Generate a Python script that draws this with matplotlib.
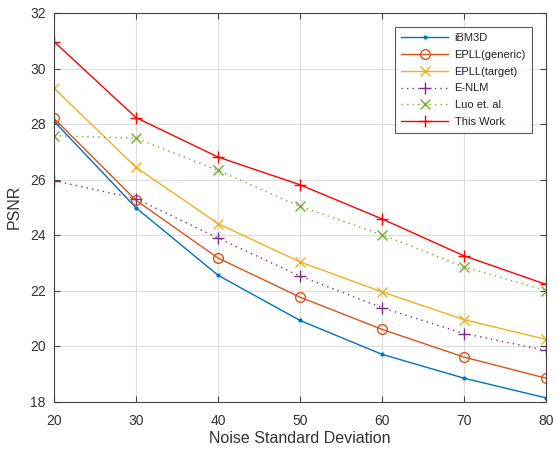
import matplotlib
matplotlib.use("Agg")
import matplotlib.pyplot as plt

noise = [20, 30, 40, 50, 60, 70, 80]
ibm3d = [28.10, 24.98, 22.55, 20.92, 19.70, 18.84, 18.13]
epll_generic = [28.20, 25.25, 23.17, 21.76, 20.60, 19.60, 18.84]
epll_target = [29.29, 26.44, 24.41, 23.03, 21.95, 20.95, 20.24]
enlm = [25.96, 25.31, 23.89, 22.52, 21.38, 20.45, 19.84]
luo = [27.58, 27.49, 26.33, 25.03, 24.01, 22.85, 22.00]
this_work = [30.97, 28.23, 26.81, 25.81, 24.58, 23.25, 22.22]

labels = ["iBM3D", "EPLL(generic)", "EPLL(target)", "E-NLM", "Luo et. al.", "This Work"]
yticks = [18, 20, 22, 24, 26, 28, 30, 32]

plt.rcParams['font.family'] = ['Liberation Sans', 'DejaVu Sans']

fig = plt.figure(figsize=(5.58, 4.49), dpi=100)
ax = fig.add_axes([54/558, 47.5/449, 492/558, 388.5/449])

lw = 1.0
ax.plot(noise, ibm3d, color='#0072BD', marker='.', markersize=4, lw=lw, label=labels[0])
ax.plot(noise, epll_generic, color='#D95319', marker='o', markersize=7, mfc='none', mew=1.0, lw=lw, label=labels[1])
ax.plot(noise, epll_target, color='#EDB120', marker='x', markersize=7, mew=1.0, lw=lw, label=labels[2])
ax.plot(noise, enlm, color='#7E2F8E', marker='+', markersize=9, mew=1.0, lw=lw, ls=(0, (1, 3)), label=labels[3])
ax.plot(noise, luo, color='#77AC30', marker='x', markersize=7, mew=1.0, lw=lw, ls=(0, (1, 3)), label=labels[4])
ax.plot(noise, this_work, color='#FF0000', marker='+', markersize=9, mew=1.0, lw=lw, label=labels[5])

ax.set_xlim(20, 80)
ax.set_ylim(18, 32)
ax.set_xticks(noise)
ax.set_yticks(yticks)
ax.grid(True, color='#dcdcdc', lw=0.8)
ax.set_axisbelow(True)
for s in ax.spines.values():
    s.set_color('#444444')
    s.set_linewidth(0.8)
ax.tick_params(direction='in', length=4, width=0.8, colors='#444444', labelcolor='#333333',
               labelsize=10, top=True, right=True)
ax.tick_params(axis='x', pad=9)
ax.tick_params(axis='y', pad=6)
ax.set_xlabel('Noise Standard Deviation', fontsize=11.5, color='#333333', va='center')
ax.xaxis.set_label_coords(0.5, -0.094)
ax.set_ylabel('PSNR', fontsize=11.5, color='#333333', labelpad=6)

leg = ax.legend(loc='upper right', bbox_to_anchor=(0.9716, 0.9647), fontsize=8, frameon=True,
                fancybox=False, edgecolor='#333333', handlelength=4.2, handletextpad=0.6,
                labelspacing=0.62, borderpad=0.55, borderaxespad=0.0)
leg.get_frame().set_linewidth(0.8)
for t in leg.get_texts():
    t.set_color('#222222')

fig.savefig('out.png', dpi=100)
